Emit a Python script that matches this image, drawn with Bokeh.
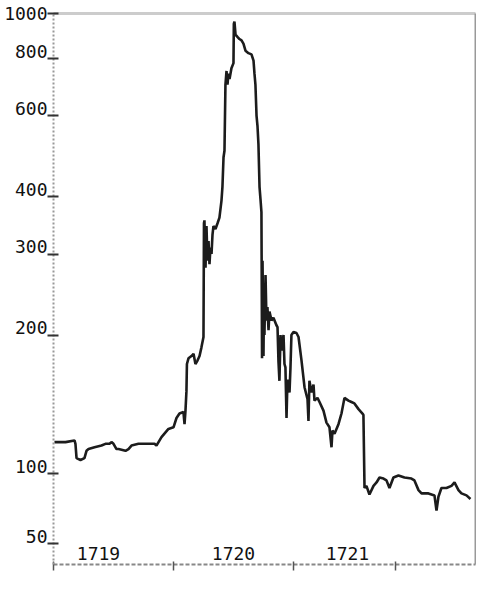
from bokeh.plotting import figure
from bokeh.models import FixedTicker, Range1d, LinearAxis, LogAxis
from bokeh.embed import file_html
from bokeh.resources import INLINE

# Share price (log scale), fractional years
years = [
    1719.008, 1719.10, 1719.175, 1719.183, 1719.192, 1719.225, 1719.258, 1719.275,
    1719.292, 1719.342, 1719.40, 1719.433, 1719.467, 1719.483, 1719.50, 1719.525,
    1719.542, 1719.60, 1719.625, 1719.65, 1719.708, 1719.80, 1719.842, 1719.858,
    1719.90, 1719.958, 1720.0, 1720.025, 1720.05, 1720.083, 1720.092, 1720.10,
    1720.108, 1720.112, 1720.125, 1720.15, 1720.167, 1720.183, 1720.20, 1720.217,
    1720.233, 1720.25, 1720.254, 1720.258, 1720.267, 1720.275, 1720.283, 1720.292,
    1720.30, 1720.308, 1720.317, 1720.325, 1720.333, 1720.35, 1720.367, 1720.383,
    1720.40, 1720.408, 1720.417, 1720.425, 1720.433, 1720.442, 1720.45, 1720.458,
    1720.467, 1720.483, 1720.50, 1720.503, 1720.508, 1720.517, 1720.533, 1720.55,
    1720.567, 1720.583, 1720.60, 1720.625, 1720.65, 1720.667, 1720.675, 1720.683,
    1720.692, 1720.70, 1720.708, 1720.717, 1720.725, 1720.733, 1720.738, 1720.742,
    1720.75, 1720.754, 1720.758, 1720.767, 1720.775, 1720.783, 1720.792, 1720.80,
    1720.817, 1720.833, 1720.858, 1720.867, 1720.875, 1720.883, 1720.892, 1720.90,
    1720.917, 1720.925, 1720.933, 1720.942, 1720.95, 1720.967, 1720.975, 1720.983,
    1721.0, 1721.025, 1721.042, 1721.067, 1721.092, 1721.117, 1721.125, 1721.133,
    1721.15, 1721.167, 1721.175, 1721.20, 1721.217, 1721.25, 1721.275, 1721.30,
    1721.317, 1721.325, 1721.342, 1721.375, 1721.40, 1721.425, 1721.458, 1721.483,
    1721.508, 1721.542, 1721.575, 1721.583, 1721.592, 1721.608, 1721.633, 1721.667,
    1721.692, 1721.717, 1721.75, 1721.775, 1721.80, 1721.833, 1721.875, 1721.925,
    1721.983, 1722.008, 1722.042, 1722.067, 1722.125, 1722.175, 1722.192, 1722.208,
    1722.233, 1722.275, 1722.317, 1722.342, 1722.375, 1722.40, 1722.442, 1722.475,
]
prices = [
    117, 117, 118, 116, 108, 107, 108, 112,
    113, 114, 115, 116, 116, 117, 116, 113,
    113, 112, 113, 115, 116, 116, 116, 115,
    120, 125, 126, 132, 135, 136, 128, 137,
    151, 173, 178, 180, 182, 173, 176, 180,
    188, 198, 350, 355, 280, 345, 290, 320,
    285, 310, 300, 330, 345, 340, 350, 360,
    392, 420, 487, 503, 700, 750, 700, 740,
    720, 760, 780, 950, 960, 900, 890, 880,
    874, 860, 830, 820, 815, 790, 740, 700,
    600, 570, 520, 420, 395, 370, 178, 290,
    180, 238, 200, 270, 215, 230, 205, 225,
    215, 218, 210, 208, 175, 159, 200, 185,
    200, 173, 170, 132, 160, 150, 170, 200,
    203, 202, 198, 176, 154, 145, 130, 159,
    150, 156, 144, 146, 143, 137, 129, 126,
    114, 124, 122, 128, 135, 146, 144, 143,
    142, 138, 135, 134, 93, 94, 90, 94,
    95.6, 98, 97.5, 96.6, 93, 98, 99, 98,
    97.5, 96.6, 92, 90.5, 90.5, 89.6, 83, 89,
    93, 93, 94, 95.6, 92, 90.5, 89.6, 88,
]

y_tick_values = [70.4, 100, 200, 300, 400, 600, 800, 1000]
y_tick_labels = ["50", "100", "200", "300", "400", "600", "800", "1000"]
x_label_positions = [1719.375, 1720.5, 1721.45]
x_labels = ["1719", "1720", "1721"]
x_boundaries = [1719, 1720, 1721, 1721.85]

FONT = "DejaVu Sans Mono"
Y_MIN, Y_MAX = 63.4, 1000
LABEL_LIFT = 1.036  # labels sit just above their tick marks

p = figure(width=476, height=580, y_axis_type="log",
           x_range=Range1d(1719, 1722.517), y_range=Range1d(Y_MIN, Y_MAX),
           output_backend="svg", toolbar_location=None,
           min_border_left=53, min_border_top=13, min_border_right=1, min_border_bottom=16)
p.background_fill_color = "white"
p.border_fill_color = "white"
p.outline_line_color = None
p.grid.visible = False

p.line(years, prices, line_color="#1c1c1c", line_width=2.6)

# y axis: labels at lifted positions (major), tick marks at true values (minor)
label_pos = [min(v * LABEL_LIFT, Y_MAX) for v in y_tick_values]
ya = p.yaxis[0]
ya.ticker = FixedTicker(ticks=label_pos, minor_ticks=y_tick_values)
ya.major_label_overrides = {v: l for v, l in zip(label_pos, y_tick_labels)}
ya.major_label_text_font = FONT
ya.major_label_text_font_size = "18px"
ya.major_label_text_color = "#111111"
ya.major_label_standoff = 0
ya.major_tick_out = 0
ya.major_tick_in = 0
ya.minor_tick_out = 6
ya.minor_tick_in = 5
ya.minor_tick_line_color = "#333333"
ya.minor_tick_line_width = 2
ya.axis_line_color = "#999999"
ya.axis_line_width = 2
ya.axis_line_dash = "2 2"

# x axis: labels between year boundaries, drawn inside the frame
xa = p.xaxis[0]
xa.ticker = FixedTicker(ticks=x_label_positions, minor_ticks=x_boundaries)
xa.major_label_overrides = {v: l for v, l in zip(x_label_positions, x_labels)}
xa.major_label_text_font = FONT
xa.major_label_text_font_size = "18px"
xa.major_label_text_color = "#111111"
xa.major_label_standoff = -24
xa.major_tick_out = 0
xa.major_tick_in = 0
xa.minor_tick_out = 6
xa.minor_tick_in = 3
xa.minor_tick_line_color = "#555555"
xa.minor_tick_line_width = 1.5
xa.axis_line_color = "#888888"
xa.axis_line_width = 2
xa.axis_line_dash = "4 2"

# top and right frame lines
top = LinearAxis(ticker=FixedTicker(ticks=[]), axis_line_color="#cccccc", axis_line_width=3,
                 major_tick_out=0, major_tick_in=0, minor_tick_out=0, minor_tick_in=0)
p.add_layout(top, "above")
right = LogAxis(ticker=FixedTicker(ticks=[]), axis_line_color="#999999", axis_line_width=2,
                major_tick_out=0, major_tick_in=0, minor_tick_out=0, minor_tick_in=0)
p.add_layout(right, "right")

open("out.html", "w").write(file_html(p, INLINE))
